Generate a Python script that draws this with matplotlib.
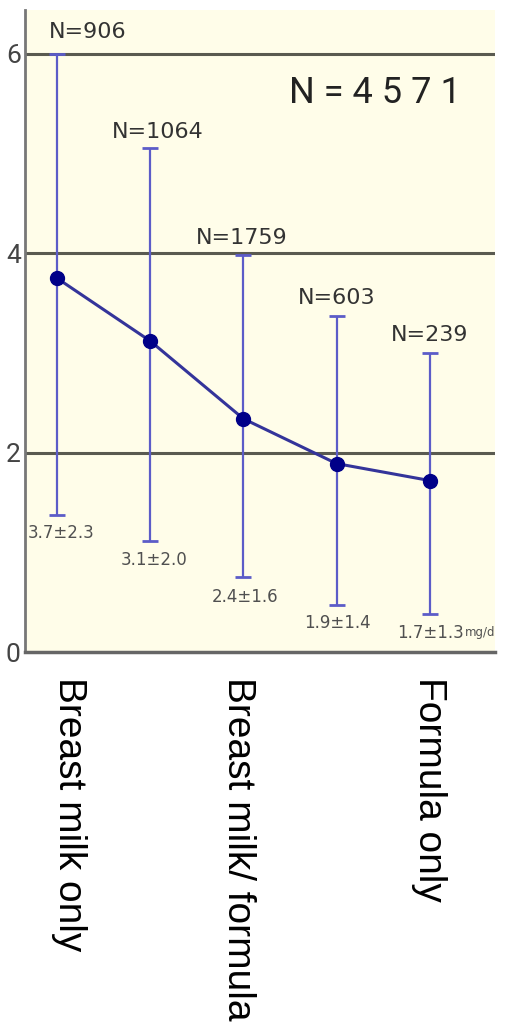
import matplotlib
matplotlib.use('Agg')
import matplotlib.pyplot as plt

#data
#=============================
pos = [1, 2, 3, 4, 5]
means = [3.75, 3.12, 2.34, 1.89, 1.72]
err_top = [6.0, 5.06, 3.98, 3.37, 3.0]
err_bot = [1.37, 1.11, 0.75, 0.47, 0.38]
n_labels = ['N=906', 'N=1064', 'N=1759', 'N=603', 'N=239']
val_labels = ['3.7±2.3', '3.1±2.0', '2.4±1.6', '1.9±1.4', '1.7±1.3']
unit_label = 'mg/d'
total_label = 'N = 4 5 7 1'
yticks = [0, 2, 4, 6]
xtick_labels = ['Breast milk only', 'Breast milk/ formula', 'Formula only']

#label placement (layout only)
#=============================
n_label_x = [1.33, 2.08, 2.98, 4.0, 5.0]
n_label_y = [6.22, 5.22, 4.15, 3.55, 3.18]
val_label_x = [1.04, 2.04, 3.02, 4.01, 5.01]
val_label_y = [1.19, 0.92, 0.55, 0.29, 0.19]
xtick_x = [1.13, 2.94, 4.99]

#figure setup
#=============================
fig = plt.figure(figsize=(5.06, 10.29), dpi=100)
ax = fig.add_axes([25/506, (1029-652)/1029, 470/506, 642/1029])
ax.set_facecolor('#fffde9')
ax.set_xlim(0.657, 5.70)
ax.set_ylim(0, 6.44)

# grid lines at 2, 4, 6
for g in yticks[1:]:
    ax.axhline(g, color='#5a5a50', lw=2.2, zorder=1)

# error bars, line and points
lo = [m - b for m, b in zip(means, err_bot)]
hi = [t - m for m, t in zip(means, err_top)]
ax.errorbar(pos, means, yerr=[lo, hi], fmt='none', ecolor='#5c5cc8',
            elinewidth=1.6, capsize=6, capthick=2.0, zorder=2)
ax.plot(pos, means, color='#34349a', lw=2.2, zorder=3)
ax.plot(pos, means, 'o', color='#000088', ms=10, zorder=4)

# text labels
for x, y, s in zip(n_label_x, n_label_y, n_labels):
    ax.text(x, y, s, ha='center', va='center', fontsize=16, color='#333333')
for x, y, s in zip(val_label_x, val_label_y, val_labels):
    ax.text(x, y, s, ha='center', va='center', fontsize=12, color='#505050')
ax.text(5.375, 0.20, unit_label, ha='left', va='center', fontsize=8.5,
        color='#505050')
ax.text(4.41, 5.61, total_label, ha='center', va='center', fontsize=26,
        color='#222222', family='Roboto')

# axes styling
for side in ['top', 'right']:
    ax.spines[side].set_visible(False)
ax.spines['left'].set_color('#777777')
ax.spines['left'].set_linewidth(2)
ax.spines['bottom'].set_color('#666666')
ax.spines['bottom'].set_linewidth(2.5)
ax.set_yticks(yticks)
ax.set_yticklabels([str(v) for v in yticks], fontsize=19, color='#444444',
                   family='Roboto')
ax.tick_params(axis='y', length=0, pad=3)
ax.set_xticks(xtick_x)
ax.set_xticklabels(xtick_labels, rotation=270, fontsize=28,
                   family='Liberation Sans', va='top', ha='center')
ax.tick_params(axis='x', length=0, pad=18)

fig.savefig('out.png', dpi=100)
